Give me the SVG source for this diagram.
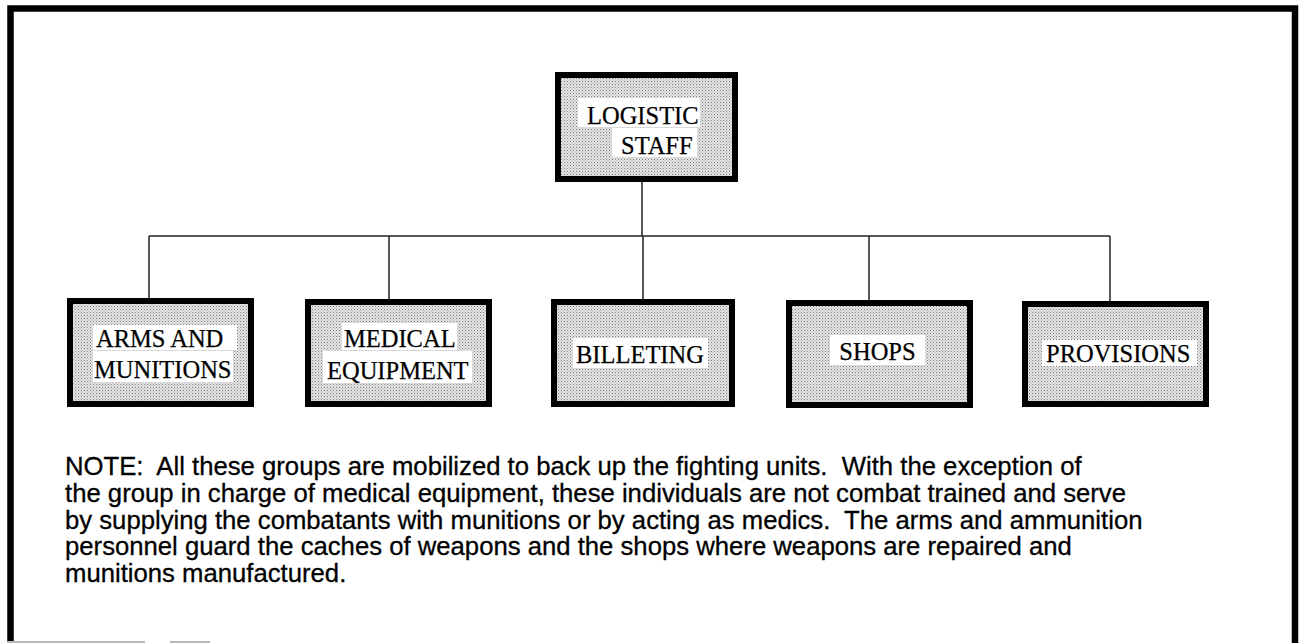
<svg xmlns="http://www.w3.org/2000/svg" width="1299" height="643" viewBox="0 0 1299 643">
  <defs>
    <pattern id="dots" width="3" height="3" patternUnits="userSpaceOnUse">
      <rect width="3" height="3" fill="#e6e6e6"/>
      <rect width="1" height="1" fill="#7a7a7a"/>
      <rect x="1.5" y="1.5" width="1" height="1" fill="#9a9a9a"/>
    </pattern>
  </defs>
  <style>
    .box { fill: url(#dots); stroke: #000; stroke-width: 6; }
    .lbl { fill: #fff; }
    .t { font-family: "Liberation Serif", "Times New Roman", serif; font-size: 24.5px; fill: #000; stroke: #000; stroke-width: 0.25; }
    .note { font-family: "Liberation Sans", Arial, sans-serif; font-size: 25.7px; fill: #000; stroke: #000; stroke-width: 0.3; }
    .conn { stroke: #222; stroke-width: 1.5; fill: none; }
    .frame { stroke: #000; stroke-width: 6.5; fill: none; }
  </style>
  <rect width="1299" height="643" fill="#fff"/>

  <g id="frame">
    <path class="frame" d="M10.5 643 V8.5 H1295 V643"/>
    <path d="M7 642 H145 M170 642 H210" stroke="#bbb" stroke-width="2"/>
  </g>

  <g id="connectors">
    <line class="conn" x1="642" y1="181" x2="642" y2="236"/>
    <line class="conn" x1="149" y1="236" x2="1110" y2="236"/>
    <line class="conn" x1="149" y1="236" x2="149" y2="298"/>
    <line class="conn" x1="389" y1="236" x2="389" y2="299"/>
    <line class="conn" x1="643" y1="236" x2="643" y2="299"/>
    <line class="conn" x1="869" y1="236" x2="869" y2="300"/>
    <line class="conn" x1="1110" y1="236" x2="1110" y2="301"/>
  </g>

  <g id="logistic-staff">
    <rect class="box" x="558" y="75" width="177" height="104"/>
    <rect class="lbl" x="578" y="98" width="122" height="29"/>
    <rect class="lbl" x="612" y="128" width="85" height="29"/>
    <text class="t" x="587" y="124">LOGISTIC</text>
    <text class="t" x="621" y="154">STAFF</text>
  </g>

  <g id="arms-and-munitions">
    <rect class="box" x="70" y="301" width="181" height="103"/>
    <rect class="lbl" x="93" y="325" width="144" height="25"/>
    <rect class="lbl" x="93" y="351" width="140" height="31"/>
    <text class="t" x="96" y="347">ARMS AND</text>
    <text class="t" x="94" y="378">MUNITIONS</text>
  </g>

  <g id="medical-equipment">
    <rect class="box" x="308" y="302" width="181" height="102"/>
    <rect class="lbl" x="342" y="323" width="115" height="27"/>
    <rect class="lbl" x="323" y="351" width="149" height="32"/>
    <text class="t" x="344" y="347">MEDICAL</text>
    <text class="t" x="327" y="379">EQUIPMENT</text>
  </g>

  <g id="billeting">
    <rect class="box" x="554" y="302" width="178" height="102"/>
    <rect class="lbl" x="573" y="338" width="135" height="30"/>
    <text class="t" x="576" y="363">BILLETING</text>
  </g>

  <g id="shops">
    <rect class="box" x="789" y="303" width="181" height="102"/>
    <rect class="lbl" x="830" y="335" width="95" height="30"/>
    <text class="t" x="877.5" y="360" text-anchor="middle">SHOPS</text>
  </g>

  <g id="provisions">
    <rect class="box" x="1025" y="304" width="181" height="100"/>
    <rect class="lbl" x="1042" y="340" width="155" height="26"/>
    <text class="t" x="1046" y="362">PROVISIONS</text>
  </g>

  <g id="note">
    <text class="note" x="65" y="475" xml:space="preserve">NOTE:  All these groups are mobilized to back up the fighting units.  With the exception of</text>
    <text class="note" x="65" y="502">the group in charge of medical equipment, these individuals are not combat trained and serve</text>
    <text class="note" x="65" y="529" xml:space="preserve">by supplying the combatants with munitions or by acting as medics.  The arms and ammunition</text>
    <text class="note" x="65" y="555">personnel guard the caches of weapons and the shops where weapons are repaired and</text>
    <text class="note" x="65" y="582">munitions manufactured.</text>
  </g>
</svg>
